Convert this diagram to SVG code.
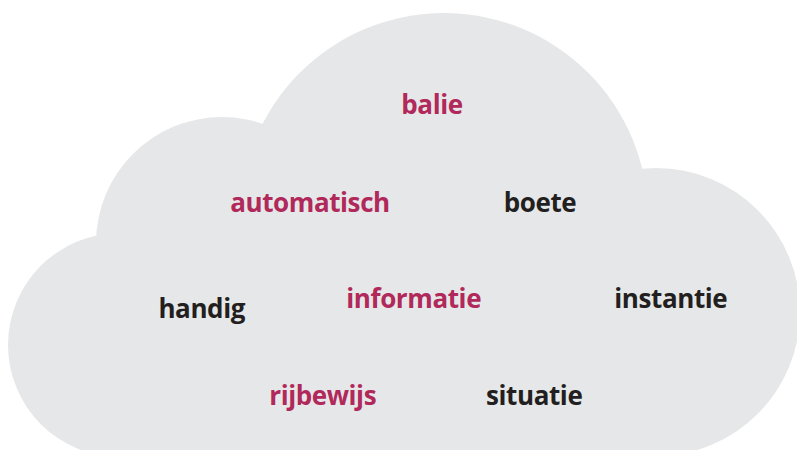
<svg xmlns="http://www.w3.org/2000/svg" width="797" height="450" viewBox="0 0 797 450">
  <style>
    .cloud { fill: #e6e7e8; }
    .w { font-family: "Open Sans", "Liberation Sans", sans-serif; font-weight: bold; font-size: 26px; letter-spacing: -0.4px; text-anchor: middle; font-variant-ligatures: none; }
    .hi { fill: #b0295a; }
    .lo { fill: #231f20; }
  </style>
  <rect width="797" height="450" fill="#ffffff"/>
  <g id="cloud" class="cloud">
    <circle cx="444" cy="217" r="204"/>
    <circle cx="222" cy="243" r="126"/>
    <circle cx="120" cy="345" r="112"/>
    <circle cx="656" cy="312" r="144"/>
    <rect x="120" y="240" width="540" height="210"/>
  </g>
  <g id="word-balie"><text class="w hi" x="432" y="114">balie</text></g>
  <g id="word-automatisch"><text class="w hi" x="310" y="211.5">automatisch</text></g>
  <g id="word-boete"><text class="w lo" x="540" y="211.5">boete</text></g>
  <g id="word-handig"><text class="w lo" x="201.7" y="318">handig</text></g>
  <g id="word-informatie"><text class="w hi" x="413.7" y="308">informatie</text></g>
  <g id="word-instantie"><text class="w lo" x="670.8" y="308">instantie</text></g>
  <g id="word-rijbewijs"><text class="w hi" x="322.7" y="405">rijbewijs</text></g>
  <g id="word-situatie"><text class="w lo" x="534.2" y="405">situatie</text></g>
</svg>
